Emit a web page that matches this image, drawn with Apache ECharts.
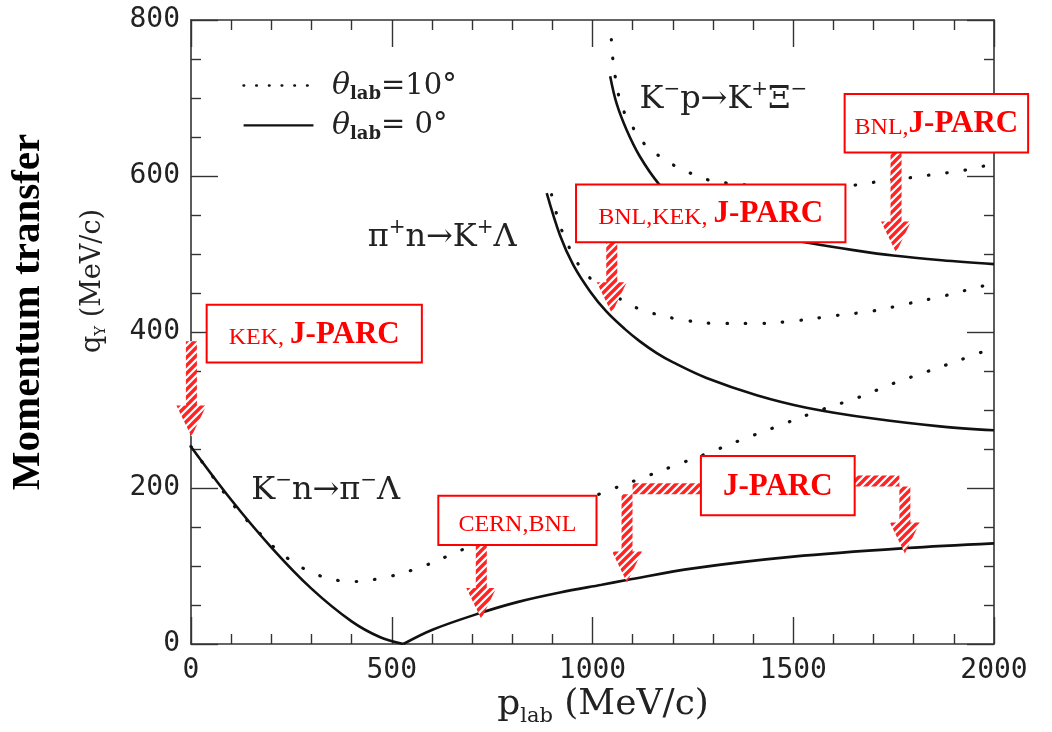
<!DOCTYPE html>
<html>
<head>
<meta charset="utf-8">
<script src="https://cdn.jsdelivr.net/npm/echarts/dist/echarts.min.js"></script>
<style>
  html, body { margin: 0; padding: 0; background: #fff; }
  #chart { width: 1052px; height: 732px; }
</style>
</head>
<body>
<div id="chart"></div>
<script>
// Axis ranges and tick labels
const xTicks = [0, 500, 1000, 1500, 2000];
const yTicks = [0, 200, 400, 600, 800];

// q_Y versus p_lab, [p_lab, q_Y] in MeV/c
// K- n -> pi- Lambda, theta_lab = 0 (falls to zero, then rises again)
const knSolidDown = [[0,253],[100,185],[200,124],[300,71],[400,29],[470,9],[529,0]];
const knSolidUp   = [[529,0],[600,18],[716,39],[815,54],[919,66],[1023,76],[1085,82],[1251,97],[1500,112],[1782,123],[2000,129]];
// K- n -> pi- Lambda, theta_lab = 10 deg
const knDotted = [[0,253],[55,214],[106,178],[167,144],[235,112],[313,89],[401,80],[489,86],[575,99],[658,117],[699,126],[800,147],[900,168],[1031,195],[1114,211],[1201,228],[1284,244],[1367,261],[1450,277],[1574,301],[1662,316],[1749,334],[1832,349],[1915,364],[2000,380]];
// pi+ n -> K+ Lambda
const piSolid  = [[886,578],[919,524],[952,486],[994,452],[1035,426],[1080,404],[1118,388],[1160,373],[1201,361],[1284,341],[1409,319],[1533,303],[1699,289],[1865,279],[2000,274]];
const piDotted = [[898,576],[923,531],[961,490],[990,471],[1035,454],[1093,435],[1143,425],[1230,415],[1317,411],[1409,411],[1500,414],[1604,421],[1699,427],[1782,436],[1873,446],[1964,458],[2000,462]];
// K- p -> K+ Xi-
const kpSolid  = [[1044,728],[1060,693],[1085,659],[1118,625],[1165,590],[1200,574],[1250,560],[1320,544],[1400,530],[1480,520],[1540,514],[1650,505],[1749,498],[1870,492],[2000,487]];
const kpDotted = [[1047,775],[1052,744],[1068,697],[1085,676],[1131,640],[1168,625],[1209,612],[1247,603],[1288,595],[1334,591],[1420,587],[1520,586],[1645,588],[1690,591],[1732,595],[1778,597],[1823,600],[1865,603],[1910,606],[1952,610],[2000,616]];

// Reaction labels: [p_lab, q_Y] of the label's left/middle point
const reactionLabels = [
  { at: [150, 199], text: '{a|K}{s|−}{a|n→π}{s|−}{a|Λ}' },
  { at: [440, 523], text: '{a|π}{s|+}{a|n→K}{s|+}{a|Λ}' },
  { at: [1117, 700], text: '{a|K}{s|−}{a|p→K}{s|+}{a|Ξ}{s|−}' }
];

// Experiment boxes: corners in data units
const expBoxes = [
  { from: [39, 435],  to: [575, 361],  text: '{r|KEK, }{b|J-PARC}' },
  { from: [616, 190], to: [1010, 127], text: '{r|CERN,BNL}' },
  { from: [959, 589], to: [1630, 515], text: '{r|BNL,KEK, }{b|J-PARC}' },
  { from: [1628, 705], to: [2085, 630], text: '{r|BNL,}{b|J-PARC}' },
  { from: [1270, 241], to: [1653, 165], text: '{b|J-PARC}' }
];
// Straight arrows: x position, start q, tip q
const downArrows = [
  { p: 1, from: 388, to: 266 },
  { p: 723, from: 127, to: 32 },
  { p: 1048, from: 515, to: 424 },
  { p: 1756, from: 630, to: 502 }
];
// Bent arrows leaving the J-PARC box sideways: start x, band q, arrow x, tip q
const bentArrows = [
  { start: 1270, band: 199, p: 1086, to: 79 },
  { start: 1653, band: 209, p: 1778, to: 116 }
];

// Legend samples
const legendRows = [
  { q: 716, dotted: true,  text: '{t|θ}{sub|lab}{a|=10°}' },
  { q: 665, dotted: false, text: '{t|θ}{sub|lab}{a|= 0°}' }
];
const legendSpan = [131, 305];
const legendTextAt = 351;

const chart = echarts.init(document.getElementById('chart'), null, { renderer: 'canvas' });

const ink = '#111';
const frame = '#333';
const dotStyle = { color: ink, width: 3.2, type: [0.5, 18], cap: 'round' };
const solidStyle = { color: ink, width: 2.6 };
const numFont = 'DejaVu Sans Mono';
const serif = 'DejaVu Serif';

function axis(showLabel, ticks, split, position, margin) {
  return {
    type: 'value',
    position: position,
    min: ticks[0],
    max: ticks[ticks.length - 1],
    interval: ticks[1] - ticks[0],
    axisLine: { show: true, onZero: false, lineStyle: { color: frame, width: 1.6 } },
    axisTick: { show: true, inside: true, length: 27, lineStyle: { color: frame, width: 1.4 } },
    minorTick: { show: true, splitNumber: split, length: 10, lineStyle: { color: frame, width: 1.4 } },
    splitLine: { show: false },
    axisLabel: { show: showLabel, fontFamily: numFont, fontSize: 28, color: '#222', margin: margin,
      formatter: function (v) { return String(v); } }
  };
}

function line(data, style) {
  return {
    type: 'line', data: data, smooth: 0.35, symbol: 'none',
    xAxisIndex: 0, yAxisIndex: 0, lineStyle: style, z: 2, silent: true
  };
}

chart.setOption({
  animation: false,
  backgroundColor: '#fff',
  grid: { left: 191, right: 58, top: 20, bottom: 88 },
  xAxis: [
    axis(true, xTicks, 5, 'bottom', 13),
    axis(false, xTicks, 5, 'top', 8)
  ],
  yAxis: [
    axis(true, yTicks, 4, 'left', 11),
    axis(false, yTicks, 4, 'right', 8)
  ],
  series: [
    line(knDotted, dotStyle),
    line(piDotted, dotStyle),
    line(kpDotted, dotStyle),
    line(knSolidDown, solidStyle),
    line(knSolidUp, solidStyle),
    line(piSolid, solidStyle),
    line(kpSolid, solidStyle)
  ]
});

// Red/white diagonal hatching for the arrows
function hatch() {
  const s = 8;
  const c = document.createElement('canvas');
  c.width = c.height = s;
  const g = c.getContext('2d');
  g.fillStyle = '#fff';
  g.fillRect(0, 0, s, s);
  g.strokeStyle = '#ff2424';
  g.lineWidth = 3.4;
  g.beginPath();
  g.moveTo(0, s); g.lineTo(s, 0);
  g.moveTo(-s / 2, s / 2); g.lineTo(s / 2, -s / 2);
  g.moveTo(s / 2, s * 1.5); g.lineTo(s * 1.5, s / 2);
  g.stroke();
  return c;
}
const hatchFill = { image: hatch(), repeat: 'repeat' };

const px = (p) => chart.convertToPixel({ gridIndex: 0 }, p);
const shaftHalf = 5.5, headHalf = 15, headLen = 31;

function arrowPoints(cx, yTop, yTip) {
  const yh = yTip - headLen;
  return [[cx - shaftHalf, yTop], [cx + shaftHalf, yTop], [cx + shaftHalf, yh], [cx + headHalf, yh],
          [cx, yTip], [cx - headHalf, yh], [cx - shaftHalf, yh]];
}
function bentPoints(xStart, yBand, cx, yTip) {
  const yh = yTip - headLen;
  const t = yBand - shaftHalf, b = yBand + shaftHalf;
  const d = xStart > cx ? -1 : 1;
  return [[xStart, t], [cx - d * shaftHalf, t], [cx - d * shaftHalf, yh], [cx - d * headHalf, yh], [cx, yTip],
          [cx + d * headHalf, yh], [cx + d * shaftHalf, yh], [cx + d * shaftHalf, b], [xStart, b]];
}

const boxRich = {
  r: { fontFamily: 'Liberation Serif', fontSize: 24, fill: '#f00', verticalAlign: 'bottom', lineHeight: 31 },
  b: { fontFamily: 'Liberation Serif', fontSize: 31, fontWeight: 'bold', fill: '#f00', verticalAlign: 'bottom', lineHeight: 31 }
};
const labelRich = {
  a: { fontFamily: serif, fontSize: 32, fill: '#222', lineHeight: 36, verticalAlign: 'bottom' },
  s: { fontFamily: serif, fontSize: 20, fill: '#222', lineHeight: 20, verticalAlign: 'top' }
};
const legendRich = {
  t: { fontFamily: serif, fontSize: 30, fontStyle: 'italic', fill: '#222', lineHeight: 32, verticalAlign: 'top' },
  sub: { fontFamily: serif, fontSize: 18, fontWeight: 'bold', fill: '#222', lineHeight: 18, verticalAlign: 'bottom' },
  a: { fontFamily: serif, fontSize: 29, fill: '#222', lineHeight: 32, verticalAlign: 'top' }
};

const g = [];

// curve labels
reactionLabels.forEach(function (l) {
  const pt = px(l.at);
  g.push({ type: 'text', x: pt[0], y: pt[1], z: 50,
    style: { text: l.text, rich: labelRich, align: 'left', verticalAlign: 'middle' } });
});

// legend
legendRows.forEach(function (r) {
  const a = px([legendSpan[0], r.q]), b = px([legendSpan[1], r.q]);
  g.push({ type: 'line', z: 50, shape: { x1: a[0], y1: a[1], x2: b[0], y2: b[1] },
    style: r.dotted ? { stroke: ink, lineWidth: 2.6, lineDash: [0.5, 12.2], lineCap: 'round' }
                    : { stroke: ink, lineWidth: 2.2 } });
  const t = px([legendTextAt, r.q]);
  g.push({ type: 'text', x: t[0], y: t[1] + 2, z: 50,
    style: { text: r.text, rich: legendRich, align: 'left', verticalAlign: 'middle' } });
});

// arrows
downArrows.forEach(function (a) {
  const top = px([a.p, a.from]), tip = px([a.p, a.to]);
  g.push({ type: 'polygon', z: 60, shape: { points: arrowPoints(top[0], top[1], tip[1]) },
    style: { fill: hatchFill, stroke: null } });
});
bentArrows.forEach(function (a) {
  const s = px([a.start, a.band]), tip = px([a.p, a.to]);
  g.push({ type: 'polygon', z: 60, shape: { points: bentPoints(s[0], s[1], tip[0], tip[1]) },
    style: { fill: hatchFill, stroke: null } });
});

// experiment boxes
expBoxes.forEach(function (b) {
  const p1 = px(b.from), p2 = px(b.to);
  const x = Math.min(p1[0], p2[0]), y = Math.min(p1[1], p2[1]);
  const w = Math.abs(p2[0] - p1[0]), h = Math.abs(p2[1] - p1[1]);
  g.push({ type: 'rect', z: 70, shape: { x: x, y: y, width: w, height: h },
    style: { fill: '#fff', stroke: '#f00', lineWidth: 2 } });
  g.push({ type: 'text', z: 71, x: x + w / 2, y: y + h / 2 + 1,
    style: { text: b.text, rich: boxRich, align: 'center', verticalAlign: 'middle' } });
});

// axis titles
g.push({ type: 'text', z: 50, x: 603, y: 707,
  style: { text: '{a|p}{sub|lab}{a| (MeV/c)}', align: 'center', verticalAlign: 'middle',
    rich: {
      a: { fontFamily: serif, fontSize: 36, fill: '#222', lineHeight: 40, verticalAlign: 'top' },
      sub: { fontFamily: serif, fontSize: 21, fill: '#222', lineHeight: 21, verticalAlign: 'bottom' }
    } } });
g.push({ type: 'text', z: 50, x: 94, y: 281, rotation: Math.PI / 2,
  style: { text: '{a|q}{sub|Y}{a| (MeV/c)}', align: 'center', verticalAlign: 'middle',
    rich: {
      a: { fontFamily: serif, fontSize: 27, fill: '#222', lineHeight: 30, verticalAlign: 'top' },
      sub: { fontFamily: serif, fontSize: 15, fill: '#222', lineHeight: 15, verticalAlign: 'bottom' }
    } } });
g.push({ type: 'text', z: 50, x: 28, y: 312, rotation: Math.PI / 2,
  style: { text: 'Momentum transfer', align: 'center', verticalAlign: 'middle',
    fontFamily: 'Liberation Serif', fontSize: 41, fontWeight: 'bold', fill: '#000' } });

chart.setOption({ graphic: { elements: g } });
</script>
</body>
</html>
